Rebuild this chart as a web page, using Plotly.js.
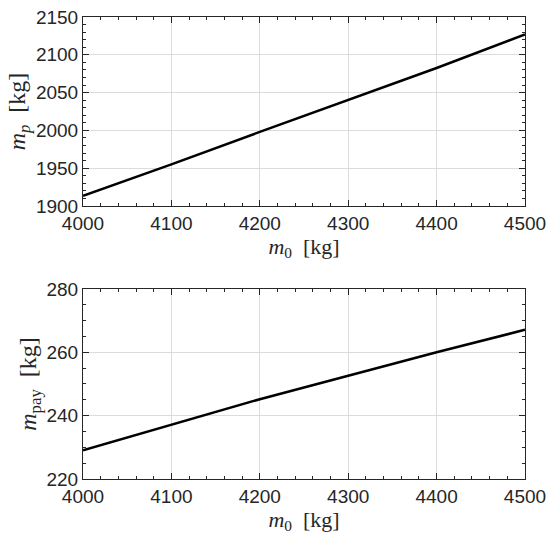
<!DOCTYPE html>
<html>
<head>
<meta charset="utf-8">
<script src="https://cdn.plot.ly/plotly-3.0.1.min.js"></script>
<style>html,body{margin:0;padding:0;background:#fff;}#chart{width:550px;height:541px;}</style>
</head>
<body>
<div id="chart"></div>
<script>
const m0 = [4000, 4100, 4200, 4300, 4400, 4500];
const mp = [1913.5, 1955, 1998, 2040, 2082.5, 2127];
const mpay = [229.1, 237.2, 245.2, 252.6, 260.0, 267.1];
const xTicks = [4000, 4100, 4200, 4300, 4400, 4500];
const mpTicks = [1900, 1950, 2000, 2050, 2100, 2150];
const mpayTicks = [220, 240, 260, 280];

const tickFont = {family: "Liberation Sans", size: 19, color: '#262626'};
const titleFont = {family: "Liberation Serif", size: 22, color: '#262626'};
const yTitleFont = {family: "Liberation Serif", size: 24, color: '#262626'};

function axisBase(range, ticks, minorDtick) {
  return {
    range: range,
    tickvals: ticks,
    ticks: 'inside',
    ticklen: 6,
    tickwidth: 1,
    tickcolor: '#262626',
    showline: true,
    linecolor: '#262626',
    linewidth: 1,
    mirror: 'allticks',
    showgrid: true,
    gridcolor: '#dcdcdc',
    gridwidth: 1,
    zeroline: false,
    tickfont: tickFont,
    minor: {dtick: minorDtick, ticks: 'inside', ticklen: 3, tickcolor: '#262626', showgrid: false},
    fixedrange: true
  };
}

const traces = [
  {x: m0, y: mp, type: 'scatter', mode: 'lines', line: {color: '#000', width: 2.5}, xaxis: 'x', yaxis: 'y', showlegend: false},
  {x: m0, y: mpay, type: 'scatter', mode: 'lines', line: {color: '#000', width: 2.5}, xaxis: 'x2', yaxis: 'y2', showlegend: false}
];

const xa1 = axisBase([4000, 4500], xTicks, 20);
xa1.anchor = 'y'; xa1.domain = [0, 1];
xa1.title = {text: '<i>m</i><sub>0</sub>  [kg]', font: titleFont, standoff: 2};
const xa2 = axisBase([4000, 4500], xTicks, 20);
xa2.anchor = 'y2'; xa2.domain = [0, 1];
xa2.title = {text: '<i>m</i><sub>0</sub>  [kg]', font: titleFont, standoff: 2};
const ya1 = axisBase([1900, 2150], mpTicks, 10);
ya1.anchor = 'x'; ya1.domain = [0.5909, 1];
ya1.title = {text: '<i>m</i><sub><i>p</i></sub>  [kg]', font: yTitleFont, standoff: 3};
const ya2 = axisBase([220, 280], mpayTicks, 5);
ya2.anchor = 'x2'; ya2.domain = [0, 0.4113];
ya2.title = {text: '<i>m</i><sub>pay</sub>  [kg]', font: yTitleFont, standoff: 3};

const layout = {
  width: 550, height: 541,
  margin: {l: 83, r: 25, t: 17, b: 62},
  paper_bgcolor: '#fff', plot_bgcolor: '#fff',
  xaxis: xa1, yaxis: ya1, xaxis2: xa2, yaxis2: ya2,
  showlegend: false
};

Plotly.newPlot('chart', traces, layout, {displayModeBar: false, staticPlot: true});
</script>
</body>
</html>
